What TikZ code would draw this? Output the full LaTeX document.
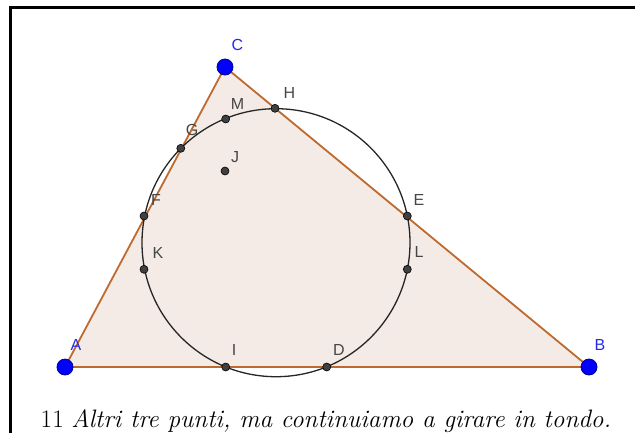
\documentclass[tikz,border=0pt]{standalone}
\usepackage{fontspec}
\newfontfamily\lblfont{Liberation Sans}
\definecolor{polyfill}{RGB}{244,235,230}
\definecolor{polyedge}{RGB}{190,105,45}
\definecolor{ptblue}{RGB}{0,0,255}
\definecolor{ptblueedge}{RGB}{0,0,150}
\definecolor{lblgray}{RGB}{70,70,70}
\definecolor{lblblue}{RGB}{40,40,235}
\tikzset{
  bigpt/.style={circle,fill=ptblue,draw=ptblueedge,line width=0.8pt,minimum size=16pt,inner sep=0pt},
  smallpt/.style={circle,fill=black!75,draw=black,line width=0.6pt,minimum size=8pt,inner sep=0pt},
  glbl/.style={text=lblgray,font=\lblfont\fontsize{16}{16}\selectfont,inner sep=0pt},
  blbl/.style={text=lblblue,font=\lblfont\fontsize{16}{16}\selectfont,inner sep=0pt},
  edge/.style={draw=polyedge,line width=1.8pt},
}
\begin{document}
\begin{tikzpicture}[x=1pt,y=-1pt]
\useasboundingbox (0,0) rectangle (635,432);
\clip (0,0) rectangle (635,432);
% frame
\draw[line width=3pt] (10,450) -- (10,7.5) -- (650,7.5);
% vertices
\coordinate (A) at (65,367);
\coordinate (B) at (589,367);
\coordinate (C) at (225,67);
\coordinate (O) at (276,242.7);
% triangle
\fill[polyfill] (A) -- (B) -- (C) -- cycle;
\draw[edge] (A) -- (B);
\draw[edge] (B) -- (C);
\draw[edge] (C) -- (A);
% circle
\draw[line width=1.3pt,black!85] (O) circle[radius=134];
% small points
\node[smallpt] (H) at (275,108.3) {};
\node[smallpt] (M) at (225.7,119) {};
\node[smallpt] (G) at (180.8,148.3) {};
\node[smallpt] (J) at (225,171) {};
\node[smallpt] (F) at (144,216) {};
\node[smallpt] (K) at (144,269.3) {};
\node[smallpt] (I) at (225.7,367) {};
\node[smallpt] (D) at (326.7,367) {};
\node[smallpt] (E) at (407.3,216) {};
\node[smallpt] (L) at (407.3,269.3) {};
% big points
\node[bigpt] (PA) at (A) {};
\node[bigpt] (PB) at (B) {};
\node[bigpt] (PC) at (C) {};
% labels
\node[blbl] (lC) at (237.5,45) {C};
\node[blbl] (lA) at (76,345) {A};
\node[blbl] (lB) at (600,345) {B};
\node[glbl] (lH) at (289.5,93) {H};
\node[glbl] (lM) at (237.5,104) {M};
\node[glbl] (lG) at (192,130) {G};
\node[glbl] (lJ) at (235,157) {J};
\node[glbl] (lF) at (156,200) {F};
\node[glbl] (lE) at (419,200) {E};
\node[glbl] (lK) at (158,253) {K};
\node[glbl] (lL) at (419,252) {L};
\node[glbl] (lI) at (234,350) {I};
\node[glbl] (lD) at (339,350) {D};
% caption
\node[anchor=base west,inner sep=0pt,font=\fontsize{25.2}{28}\selectfont] (cap) at (40.5,427) {11 \textit{Altri tre punti, ma continuiamo a girare in tondo.}};
\end{tikzpicture}
\end{document}
